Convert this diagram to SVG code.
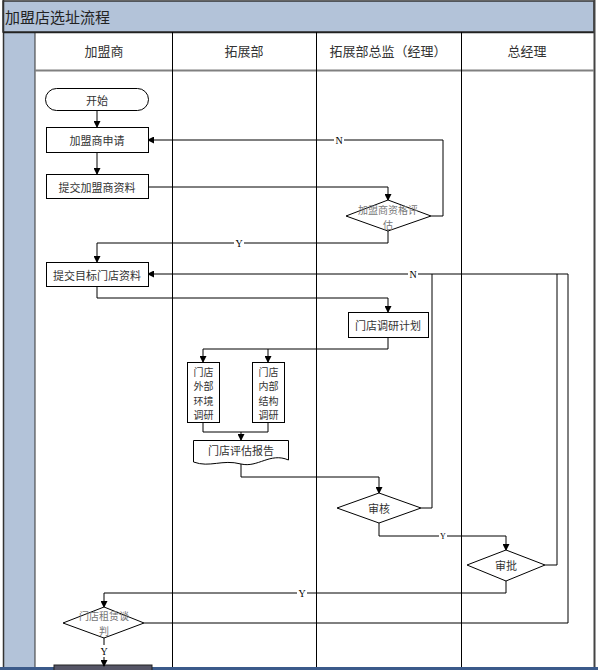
<svg xmlns="http://www.w3.org/2000/svg" width="598" height="670" viewBox="0 0 598 670">
<defs>
<marker id="ah" markerWidth="7" markerHeight="7" refX="6" refY="3.5" orient="auto" markerUnits="userSpaceOnUse">
<path d="M0,0 L7,3.5 L0,7 Z" fill="#000"/>
</marker>
<style>
text{font-family:"Noto Sans CJK SC","Liberation Serif",serif;}
.t{font-size:11px;fill:#333;text-anchor:middle;dominant-baseline:central;}
.g{font-size:10px;fill:#777;text-anchor:middle;dominant-baseline:central;}
.v{font-size:10px;fill:#333;text-anchor:middle;dominant-baseline:central;}
.h{font-size:13px;fill:#333;text-anchor:middle;dominant-baseline:central;}
.lbl{font-size:10px;fill:#000;text-anchor:middle;dominant-baseline:central;font-family:"Liberation Serif",serif;}
.n{fill:#fff;stroke:#000;stroke-width:1;}
.c{fill:none;stroke:#000;stroke-width:1;}
.ca{fill:none;stroke:#000;stroke-width:1;marker-end:url(#ah);}
.lb{fill:#fff;}
</style>
</defs>
<rect x="0" y="0" width="598" height="670" fill="#fff"/>
<g id="frame">
<rect x="3" y="1" width="591" height="31" fill="#b3c3d9" stroke="#333" stroke-width="1.5"/>
<text x="5" y="16" style="font-size:15px;fill:#222;dominant-baseline:central;">加盟店选址流程</text>
<rect x="3" y="32" width="32" height="638" fill="#b3c3d9"/>
<line x1="3.5" y1="0" x2="3.5" y2="670" stroke="#333" stroke-width="1.5"/>
<line x1="35" y1="32" x2="35" y2="670" stroke="#333" stroke-width="1"/>
<line x1="3" y1="32.5" x2="594" y2="32.5" stroke="#222" stroke-width="1.5"/>
<line x1="594.5" y1="0" x2="594.5" y2="670" stroke="#444" stroke-width="2"/>
<line x1="35" y1="70.5" x2="594" y2="70.5" stroke="#808080" stroke-width="2"/>
<line x1="172.5" y1="32" x2="172.5" y2="670" stroke="#000" stroke-width="1"/>
<line x1="316.5" y1="32" x2="316.5" y2="670" stroke="#000" stroke-width="1"/>
<line x1="461.5" y1="32" x2="461.5" y2="670" stroke="#000" stroke-width="1"/>
<text class="h" x="104" y="50">加盟商</text>
<text class="h" x="244" y="50">拓展部</text>
<text class="h" x="388" y="50">拓展部总监（经理）</text>
<text class="h" x="527" y="50">总经理</text>
<rect x="0" y="667" width="598" height="3" fill="#3b5a8a"/>
<rect x="54" y="665" width="98" height="6" fill="#556" stroke="#222" stroke-width="1"/>
</g>
<g id="connectors">
<path class="ca" d="M97,111 V127"/>
<path class="ca" d="M97,152 V174"/>
<path class="ca" d="M148,187 H388 V200"/>
<path class="ca" d="M431,216 H443 V140 H148"/>
<path class="ca" d="M388,231 V243 H97 V262"/>
<path class="ca" d="M97,287 V298 H388 V312"/>
<path class="ca" d="M388,337 V349 H203 V362"/>
<path class="ca" d="M268,349 V362"/>
<path class="c" d="M203,422 V432 H268 V422"/>
<path class="ca" d="M241,432 V440"/>
<path class="ca" d="M241,464 V477 H379 V493"/>
<path class="ca" d="M421,508 H432 V274 H148"/>
<path class="ca" d="M379,523 V536 H506 V550"/>
<path class="c" d="M545,565 H557 V274"/>
<path class="ca" d="M506,581 V593 H104 V607"/>
<path class="c" d="M144,623 H568 V274 H432"/>
<path class="ca" d="M104,638 V666"/>
<rect class="lb" x="334" y="134" width="10" height="12"/>
<text class="lbl" x="339" y="140">N</text>
<rect class="lb" x="234" y="237" width="10" height="12"/>
<text class="lbl" x="239" y="243">Y</text>
<rect class="lb" x="408" y="268" width="10" height="12"/>
<text class="lbl" x="413" y="274">N</text>
<rect class="lb" x="439" y="531" width="8" height="10"/>
<text class="lbl" x="443" y="536" style="font-size:8px">Y</text>
<rect class="lb" x="297" y="587" width="10" height="12"/>
<text class="lbl" x="302" y="593">Y</text>
<rect class="lb" x="99" y="645" width="10" height="12"/>
<text class="lbl" x="104" y="651">Y</text>
</g>
<g id="start">
<rect class="n" x="45.5" y="88.5" width="103" height="22" rx="11" ry="11"/>
<text class="t" x="97" y="99.5">开始</text>
</g>
<g id="apply">
<rect class="n" x="46.5" y="127.5" width="102" height="25"/>
<text class="t" x="97" y="140">加盟商申请</text>
</g>
<g id="submit-info">
<rect class="n" x="46.5" y="174.5" width="102" height="24"/>
<text class="t" x="97" y="186.5">提交加盟商资料</text>
</g>
<g id="qualify">
<polygon class="n" points="388,200 431,216 388,231 346,216"/>
<text class="g" x="388" y="209"><tspan x="388">加盟商资格评</tspan><tspan x="388" dy="15">估</tspan></text>
</g>
<g id="submit-store">
<rect class="n" x="46.5" y="262.5" width="102" height="24"/>
<text class="t" x="97" y="274.5">提交目标门店资料</text>
</g>
<g id="plan">
<rect class="n" x="348.5" y="312.5" width="80" height="25"/>
<text class="t" x="388" y="325">门店调研计划</text>
</g>
<g id="external">
<rect class="n" x="187.5" y="362.5" width="32" height="60"/>
<text class="v" x="203.5" y="370.5"><tspan x="203.5">门店</tspan><tspan x="203.5" dy="14.6">外部</tspan><tspan x="203.5" dy="14.6">环境</tspan><tspan x="203.5" dy="14.6">调研</tspan></text>
</g>
<g id="internal">
<rect class="n" x="252.5" y="362.5" width="32" height="60"/>
<text class="v" x="268.5" y="370.5"><tspan x="268.5">门店</tspan><tspan x="268.5" dy="14.6">内部</tspan><tspan x="268.5" dy="14.6">结构</tspan><tspan x="268.5" dy="14.6">调研</tspan></text>
</g>
<g id="report">
<path class="n" d="M193.5,440.5 H288.5 V460 C270,452 258,468 241,464 C222,459 210,468 193.5,462 Z"/>
<text class="t" x="241" y="450">门店评估报告</text>
</g>
<g id="review">
<polygon class="n" points="379,493 421,508 379,523 337,508"/>
<text class="t" x="379" y="508">审核</text>
</g>
<g id="approve">
<polygon class="n" points="506,550 545,565 506,581 467,565"/>
<text class="t" x="506" y="565">审批</text>
</g>
<g id="negotiate">
<polygon class="n" points="104,607 144,623 104,638 63,623"/>
<text class="g" x="104" y="615"><tspan x="104">门店租赁谈</tspan><tspan x="104" dy="15">判</tspan></text>
</g>
</svg>
